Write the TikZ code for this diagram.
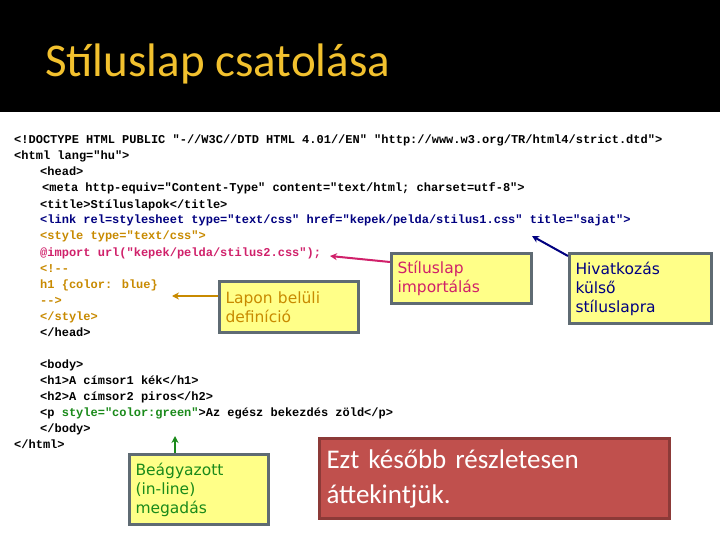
\documentclass[tikz,border=0pt]{standalone}
\usepackage{fontspec}
\setmainfont{Carlito}
\newfontfamily\codefont{Liberation Mono}
\newfontfamily\labfont{DejaVu Sans}
\usetikzlibrary{arrows.meta}
\definecolor{navy}{HTML}{000080}
\definecolor{gold}{HTML}{C88A00}
\definecolor{mag}{HTML}{D0206A}
\definecolor{grn}{HTML}{1A8A1A}
\definecolor{note}{HTML}{FFFF88}
\definecolor{frame}{HTML}{5F6B73}
\definecolor{redbox}{HTML}{C0504D}
\definecolor{redframe}{HTML}{8C3A38}
\definecolor{titley}{HTML}{F2C12E}
\begin{document}
\begin{tikzpicture}[x=1pt,y=-1pt,
  code/.style={anchor=base west,inner sep=0pt,font=\codefont\bfseries\fontsize{12}{12}\selectfont},
  notebox/.style={draw=frame,line width=3pt,fill=note,anchor=north west,align=left,inner xsep=6pt,inner ysep=5pt,font=\labfont\fontsize{15.5}{19}\selectfont},
  arr/.style={line width=2pt,-{Stealth[length=7pt,width=7pt]}}]
\useasboundingbox (0,0) rectangle (720,540);
\fill[white] (0,0) rectangle (720,540);
\fill[black] (0,0) rectangle (720,112);
\node[anchor=base west,inner sep=0pt,text=titley,font=\fontsize{47}{50}\selectfont] (title) at (45,77) {Stíluslap csatolása};
\node[code] (l1) at (14,144) {<!DOCTYPE HTML PUBLIC "-//W3C//DTD HTML 4.01//EN" "http://www.w3.org/TR/html4/strict.dtd">};
\node[code] (l2) at (14,160) {<html lang="hu">};
\node[code] (l3) at (40,176) {<head>};
\node[code] (l4) at (42,192) {<meta http-equiv="Content-Type" content="text/html; charset=utf-8">};
\node[code] (l5) at (40,208) {<title>Stíluslapok</title>};
\node[code,text=navy] (l6) at (40,224) {<link rel=stylesheet type="text/css" href="kepek/pelda/stilus1.css" title="sajat">};
\node[code,text=gold] (l7) at (40,240) {<style type="text/css">};
\node[code,text=mag] (l8) at (40,256) {@import url("kepek/pelda/stilus2.css");};
\node[code,text=gold] (l9) at (40,272) {<!--};
\node[code,text=gold] (l10) at (40,288) {h1 \{color: blue\}};
\node[code,text=gold] (l11) at (40,304) {-->};
\node[code,text=gold] (l12) at (40,320) {</style>};
\node[code] (l13) at (40,336) {</head>};
\node[code] (l14) at (40,368) {<body>};
\node[code] (l15) at (40,384) {<h1>A címsor1 kék</h1>};
\node[code] (l16) at (40,400) {<h2>A címsor2 piros</h2>};
\node[code] (l17) at (40,416) {<p \textcolor{grn}{style="color:green"}>Az egész bekezdés zöld</p>};
\node[code] (l18) at (40,432) {</body>};
\node[code] (l19) at (14,448) {</html>};
\node[notebox,text=gold,text width=127pt,minimum height=51pt] (lapon) at (218,280) {Lapon belüli\\definíció};
\node[notebox,text=mag,text width=128pt,minimum height=50pt] (imp) at (390,252) {Stíluslap\\importálás};
\node[notebox,text=navy,text width=130pt,minimum height=70pt] (hiv) at (568,252) {Hivatkozás\\külső\\stíluslapra};
\node[notebox,text=grn,text width=127pt,minimum height=70pt] (beag) at (128,453) {Beágyazott\\(in-line)\\megadás};
\node[draw=redframe,line width=3pt,fill=redbox,text=white,anchor=north west,align=left,text width=336pt,minimum height=80pt,inner xsep=7pt,inner ysep=6pt,font=\fontsize{27}{35}\selectfont] (red) at (318,437) {Ezt később részletesen\\áttekintjük.};
\coordinate (tl) at (172,296);
\coordinate (ti) at (330,256);
\coordinate (th) at (532,236);
\coordinate (tb) at (175,436);
\draw[arr,draw=gold] (lapon.west |- tl) -- (tl);
\draw[arr,draw=mag] ([yshift=-10pt]imp.north west) -- (ti);
\draw[arr,draw=navy] ([yshift=-4pt]hiv.north west) -- (th);
\draw[arr,draw=grn] (beag.north -| tb) -- (tb);
\end{tikzpicture}
\end{document}
